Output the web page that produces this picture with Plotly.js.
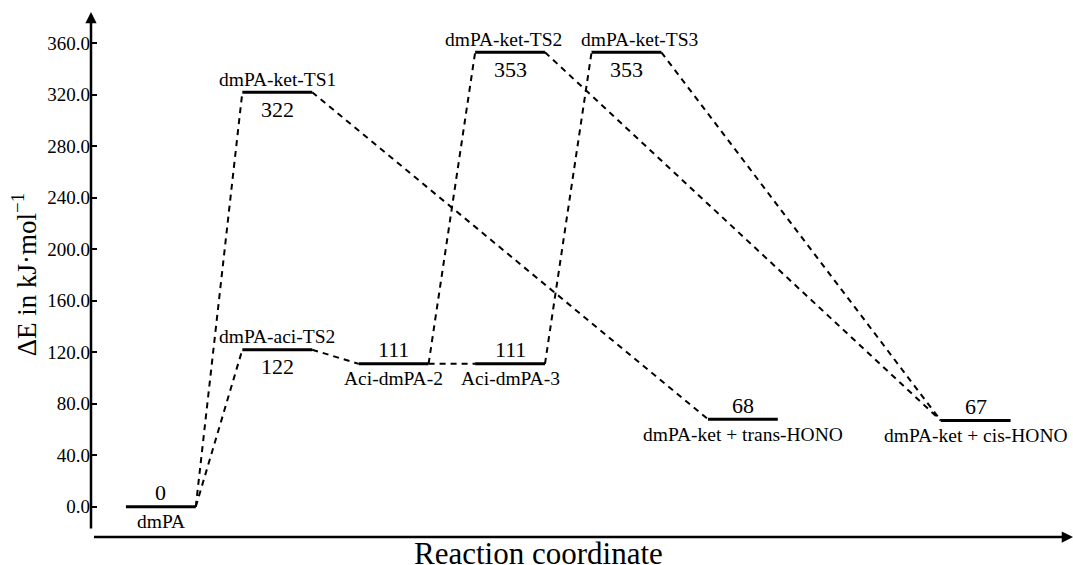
<!DOCTYPE html>
<html>
<head>
<meta charset="utf-8">
<script src="https://cdn.plot.ly/plotly-3.0.1.min.js"></script>
<style>
  html, body { margin: 0; padding: 0; background: #fff; font-family: 'Liberation Serif'; }
  #chart { position: relative; width: 1073px; height: 565px; }
</style>
</head>
<body>
<div id="chart"></div>
<script>
// ---- data ----
const levelNames = ['dmPA', 'dmPA-ket-TS1', 'dmPA-aci-TS2', 'Aci-dmPA-2', 'Aci-dmPA-3',
                    'dmPA-ket-TS2', 'dmPA-ket-TS3', 'dmPA-ket + trans-HONO', 'dmPA-ket + cis-HONO'];
const energies = [0, 322, 122, 111, 111, 353, 353, 68, 67];
const stages = [0, 1, 1, 2, 3, 3, 4, 5, 7];
const nameSide = ['below', 'above', 'above', 'below', 'below', 'above', 'above', 'below', 'below'];
const connections = [[0, 1], [0, 2], [1, 7], [2, 3], [3, 4], [3, 5], [4, 6], [5, 8], [6, 8]];
const yTickVals = [0, 40, 80, 120, 160, 200, 240, 280, 320, 360];

// ---- styling constants ----
const W = 0.6;  // level width in stage units
const FONT = 'Liberation Serif';
const nameXShift = [0, 0, 0, 0, 0, -7, 13, 0, 0];

const lx = [], ly = [];
stages.forEach((s, i) => { lx.push(s, s + W, null); ly.push(energies[i], energies[i], null); });

const cx = [], cy = [];
connections.forEach(([a, b]) => {
  cx.push(stages[a] + W, stages[b], null);
  cy.push(energies[a], energies[b], null);
});

const traces = [
  { x: cx, y: cy, mode: 'lines', line: { color: '#000', width: 2, dash: '6px,5px' }, hoverinfo: 'skip' },
  { x: lx, y: ly, mode: 'lines', line: { color: '#000', width: 3 }, hoverinfo: 'skip' }
];

const annotations = [];
stages.forEach((s, i) => {
  const xc = s + W / 2;
  const above = nameSide[i] === 'above';
  annotations.push({
    x: xc, y: energies[i], xref: 'x', yref: 'y', showarrow: false,
    text: levelNames[i], font: { family: FONT, size: 19.5, color: '#000' },
    yanchor: 'middle', yshift: above ? 13 : -15, xshift: nameXShift[i]
  });
  annotations.push({
    x: xc, y: energies[i], xref: 'x', yref: 'y', showarrow: false,
    text: String(energies[i]), font: { family: FONT, size: 22, color: '#000' },
    yanchor: 'middle', yshift: above ? -17 : 14
  });
});

// axis arrows
annotations.push({
  x: 0, y: 1, xref: 'x domain', yref: 'y domain', ax: 0, ay: 525, axref: 'pixel', ayref: 'pixel',
  showarrow: true, arrowhead: 2, arrowsize: 0.9, arrowwidth: 2.5, arrowcolor: '#000', text: ' '
});
annotations.push({
  x: 1, y: 0, xref: 'x domain', yref: 'y domain', ax: -982, ay: 0, axref: 'pixel', ayref: 'pixel',
  showarrow: true, arrowhead: 2, arrowsize: 0.9, arrowwidth: 2.5, arrowcolor: '#000', text: ' '
});
// axis titles
annotations.push({
  x: 0.4556, y: -0.032, xref: 'paper', yref: 'paper', showarrow: false, xanchor: 'center', yanchor: 'middle',
  text: 'Reaction coordinate', font: { family: FONT, size: 31, color: '#000' }
});
annotations.push({
  x: -0.068, y: 0.499, xref: 'paper', yref: 'paper', showarrow: false, textangle: -90,
  xanchor: 'center', yanchor: 'middle',
  text: 'ΔE in kJ·mol<sup>−1</sup>', font: { family: FONT, size: 27, color: '#000' }
});

const layout = {
  width: 1073, height: 565,
  margin: { l: 91, r: 0, t: 12, b: 28 },
  paper_bgcolor: '#fff', plot_bgcolor: '#fff',
  showlegend: false,
  font: { family: FONT, color: '#000' },
  xaxis: {
    range: [-0.3, 8.136], showgrid: false, zeroline: false, showline: false,
    showticklabels: false, ticks: ''
  },
  yaxis: {
    range: [-23.5, 384.3], showgrid: false, zeroline: false, showline: false,
    tickvals: yTickVals, tickformat: '.1f', ticks: 'inside', ticklen: 6, tickwidth: 2,
    tickcolor: '#000', tickfont: { family: FONT, size: 19, color: '#000' }
  },
  annotations: annotations
};

Plotly.newPlot('chart', traces, layout, { displayModeBar: false });
</script>
</body>
</html>
